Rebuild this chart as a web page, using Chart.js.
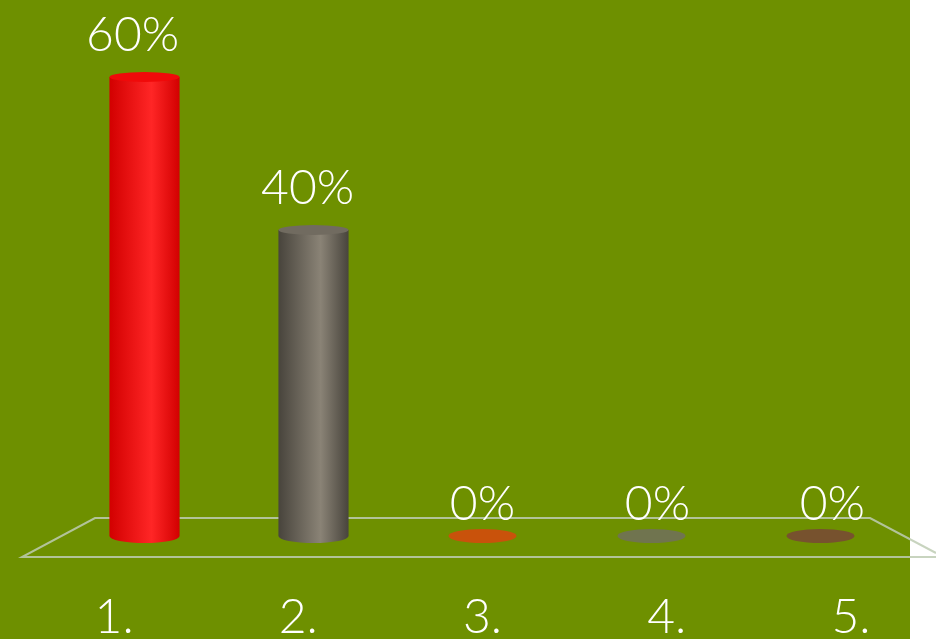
<!DOCTYPE html>
<html>
<head>
<meta charset="utf-8">
<script src="https://cdn.jsdelivr.net/npm/chart.js@4.4.1/dist/chart.umd.min.js"></script>
<style>
  html, body { margin: 0; padding: 0; background: #ffffff; }
  #wrap { width: 936px; height: 639px; }
</style>
</head>
<body>
<div id="wrap"><canvas id="grafico" width="936" height="639"></canvas></div>
<script>
const categorias = ['1.', '2.', '3.', '4.', '5.'];
const valores = [60, 40, 0, 0, 0];
const rotulos = ['60%', '40%', '0%', '0%', '0%'];
// cores: borda escura, meio claro, tampa
const coresEscuras = ['#d20000', '#48443c', '#b84808', '#666a48', '#6e4a2a'];
const coresClaras = ['#ff2626', '#8a8376', '#d2560c', '#7a7d58', '#80582f'];
const coresTampa = ['#f00a0a', '#716b60', '#c9520b', '#70744f', '#77522e'];

const FUNDO = '#6e9000';
const FONTE = '300 48px "Lato", "Open Sans", sans-serif';

const cilindros = {
    id: 'cilindros',
    beforeDraw(chart) {
        const c = chart.ctx;
        c.save();
        c.fillStyle = '#ffffff';
        c.fillRect(0, 0, chart.width, chart.height);
        c.fillStyle = FUNDO;
        c.fillRect(0, 0, 910, chart.height);

        // piso em perspectiva
        const area = chart.chartArea;
        const fundoY = area.bottom - 18;
        const frenteY = area.bottom + 21;
        c.strokeStyle = 'rgba(190, 205, 180, 0.85)';
        c.lineWidth = 2;
        c.beginPath();
        c.moveTo(936, frenteY - 4);
        c.lineTo(area.right - 35, fundoY);
        c.lineTo(area.left + 35, fundoY);
        c.lineTo(area.left - 38, frenteY);
        c.lineTo(936, frenteY);
        c.stroke();
        c.restore();
    },
    afterDatasetsDraw(chart) {
        const c = chart.ctx;
        const meta = chart.getDatasetMeta(0);
        const xScale = chart.scales.x;
        const meio = (xScale.left + xScale.right) / 2;
        c.save();
        meta.data.forEach((bar, i) => {
            const w = bar.width;
            const x0 = bar.x - w / 2;
            const ry = 7;
            const topo = bar.y;
            const base = bar.base;
            if (base - topo > 1) {
                const g = c.createLinearGradient(x0, 0, x0 + w, 0);
                g.addColorStop(0, coresEscuras[i]);
                g.addColorStop(0.6, coresClaras[i]);
                g.addColorStop(1, coresEscuras[i]);
                c.fillStyle = g;
                c.beginPath();
                c.moveTo(x0, topo);
                c.lineTo(x0, base);
                c.ellipse(bar.x, base, w / 2, ry, 0, Math.PI, 0, true);
                c.lineTo(x0 + w, topo);
                c.closePath();
                c.fill();
                c.fillStyle = coresTampa[i];
                c.beginPath();
                c.ellipse(bar.x, topo, w / 2, ry - 2, 0, 0, Math.PI * 2);
                c.fill();
            } else {
                c.fillStyle = coresTampa[i];
                c.beginPath();
                c.ellipse(bar.x, base, w / 2 - 1, ry, 0, 0, Math.PI * 2);
                c.fill();
            }

            // rótulos de valor
            c.fillStyle = '#ffffff';
            c.font = FONTE;
            c.textAlign = 'center';
            c.textBaseline = 'middle';
            const desloc = (bar.x - meio) * 0.035;
            const acima = base - topo > 1 ? 41 : 31;
            c.fillText(rotulos[i], bar.x + desloc, topo - acima);

            // rótulos das categorias, com leve perspectiva
            const xl = bar.x + (bar.x - meio) * 0.09;
            c.font = '300 48px "Lato", "Open Sans", sans-serif';
            c.fillText(categorias[i], xl, 618);
        });
        c.restore();
    }
};

const ctx = document.getElementById('grafico').getContext('2d');
new Chart(ctx, {
    type: 'bar',
    data: {
        labels: categorias,
        datasets: [{
            data: valores,
            backgroundColor: 'rgba(0,0,0,0)',
            borderWidth: 0,
            barPercentage: 0.415,
            categoryPercentage: 1
        }]
    },
    options: {
        responsive: false,
        animation: false,
        layout: { padding: { left: 60, right: 31, top: 77, bottom: 103 } },
        plugins: { legend: { display: false }, tooltip: { enabled: false } },
        scales: {
            x: { display: false },
            y: { display: false, min: 0, max: 60 }
        }
    },
    plugins: [cilindros]
});
</script>
</body>
</html>
